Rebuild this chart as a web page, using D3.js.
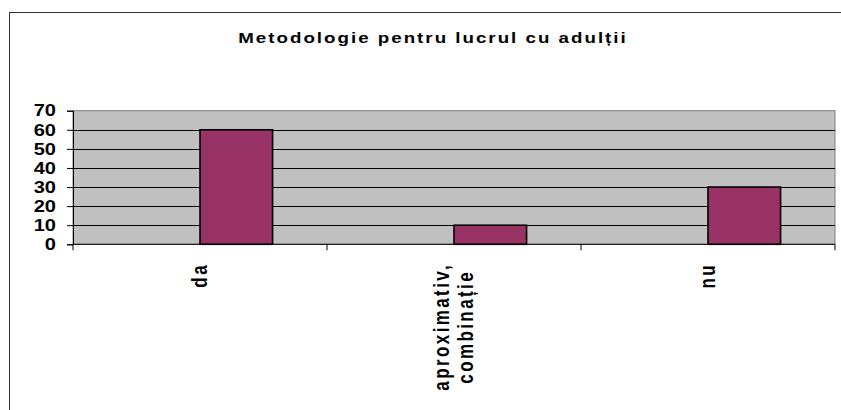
<!DOCTYPE html>
<html>
<head>
<meta charset="utf-8">
<script src="https://cdn.jsdelivr.net/npm/d3@7"></script>
<style>
    body { margin: 0; background: #fff; }
    text { font-family: "Liberation Sans", Arial, sans-serif; font-weight: bold; fill: #000; }
</style>
</head>
<body>
<svg id="chart" width="841" height="410"></svg>
<script>
// datele graficului
const title = 'Metodologie pentru lucrul cu adulții';
const categories = ['da', 'aproximativ, combinație', 'nu'];
const seriesNames = ['Seria 1', 'Seria 2'];
const seria1 = [null, null, null];   // serie goala, doar ocupa locul in grup
const seria2 = [60, 10, 30];
const yTicks = [0, 10, 20, 30, 40, 50, 60, 70];

const svg = d3.select('#chart');
const plot = { left: 73, right: 835, top: 110.7, bottom: 244.3 };
const sx = 1.25;   // textul din original e latit pe orizontala

// chenarul exterior (iese din imagine la dreapta si jos)
svg.append('rect')
    .attr('x', 9.5).attr('y', 12.5)
    .attr('width', 840).attr('height', 410)
    .attr('fill', '#fff')
    .attr('stroke', '#333').attr('stroke-width', 1);

const x0 = d3.scaleBand()
    .domain(categories)
    .range([plot.left, plot.right])
    .padding(0);

// latimea golului 150% ca in Excel
const x1 = d3.scaleBand()
    .domain(seriesNames)
    .range([0, x0.bandwidth()])
    .paddingInner(0)
    .paddingOuter(0.75);

const y = d3.scaleLinear()
    .domain([0, 70])
    .range([plot.bottom, plot.top]);

// fundalul zonei de desenare
svg.append('rect')
    .attr('x', plot.left).attr('y', plot.top)
    .attr('width', plot.right - plot.left)
    .attr('height', plot.bottom - plot.top)
    .attr('fill', '#c0c0c0')
    .attr('stroke', '#808080').attr('stroke-width', 1);

// liniile de grila
svg.append('g')
    .selectAll('line')
    .data(yTicks.filter(d => d > 0 && d < 70))
    .join('line')
    .attr('x1', plot.left).attr('x2', plot.right)
    .attr('y1', d => Math.round(y(d)) + 0.5)
    .attr('y2', d => Math.round(y(d)) + 0.5)
    .attr('stroke', '#000').attr('stroke-width', 1);

// barele
const rows = categories.map((c, i) => ({ cat: c, values: [seria1[i], seria2[i]] }));
svg.append('g')
    .selectAll('g')
    .data(rows)
    .join('g')
    .attr('transform', d => `translate(${x0(d.cat)},0)`)
    .selectAll('rect')
    .data(d => d.values.map((v, j) => ({ s: seriesNames[j], v })).filter(d => d.v != null))
    .join('rect')
    .attr('x', d => x1(d.s))
    .attr('y', d => y(d.v))
    .attr('width', x1.bandwidth())
    .attr('height', d => y(0) - y(d.v))
    .attr('fill', '#993366')
    .attr('stroke', '#000').attr('stroke-width', 1.6);

// axa Y (textul il pun separat ca sa-l pot lati)
const yAxis = svg.append('g')
    .attr('transform', `translate(${plot.left},0)`)
    .call(d3.axisLeft(y).tickValues(yTicks).tickSize(6).tickFormat(''));
yAxis.select('.domain').attr('stroke', '#000');
yAxis.selectAll('.tick line').attr('stroke', '#000');
yAxis.selectAll('.tick text').remove();

svg.append('g')
    .selectAll('text')
    .data(yTicks)
    .join('text')
    .attr('transform', d => `translate(56,${y(d)}) scale(${sx},1)`)
    .attr('text-anchor', 'end')
    .attr('dy', '0.36em')
    .attr('font-size', 16)
    .text(d => d);

// axa X, cu liniute intre categorii
const xAxis = svg.append('g')
    .attr('transform', `translate(0,${plot.bottom})`);
xAxis.append('line')
    .attr('x1', plot.left).attr('x2', plot.right)
    .attr('stroke', '#000');
xAxis.selectAll('line.sep')
    .data(categories.map(c => x0(c)).concat([plot.right]))
    .join('line')
    .attr('class', 'sep')
    .attr('x1', d => d).attr('x2', d => d)
    .attr('y1', 0).attr('y2', 6)
    .attr('stroke', '#000');

// etichetele categoriilor, rotite, cu rupere dupa virgula
const lineH = 24 / sx;
const labels = xAxis.selectAll('g.lbl')
    .data(categories)
    .join('g')
    .attr('class', 'lbl')
    .attr('transform', d => `translate(${x0(d) + x0.bandwidth() / 2},${263 - plot.bottom}) scale(${sx},1) rotate(-90)`);

labels.each(function (d) {
    const g = d3.select(this);
    const lines = d.split(/(?<=,)\s+/);
    const texts = lines.map((ln, i) => g.append('text')
        .attr('font-size', 17)
        .attr('letter-spacing', '2.4px')
        .attr('dominant-baseline', 'central')
        .attr('text-anchor', 'middle')
        .attr('y', (i - (lines.length - 1) / 2) * lineH)
        .text(ln));
    const maxLen = d3.max(texts, t => t.node().getComputedTextLength());
    texts.forEach(t => t.attr('x', -maxLen / 2));
});

// titlul
svg.append('text')
    .attr('transform', `translate(433,43) scale(${sx},1)`)
    .attr('text-anchor', 'middle')
    .attr('font-size', 15)
    .attr('letter-spacing', '1.6px')
    .text(title);
</script>
</body>
</html>
